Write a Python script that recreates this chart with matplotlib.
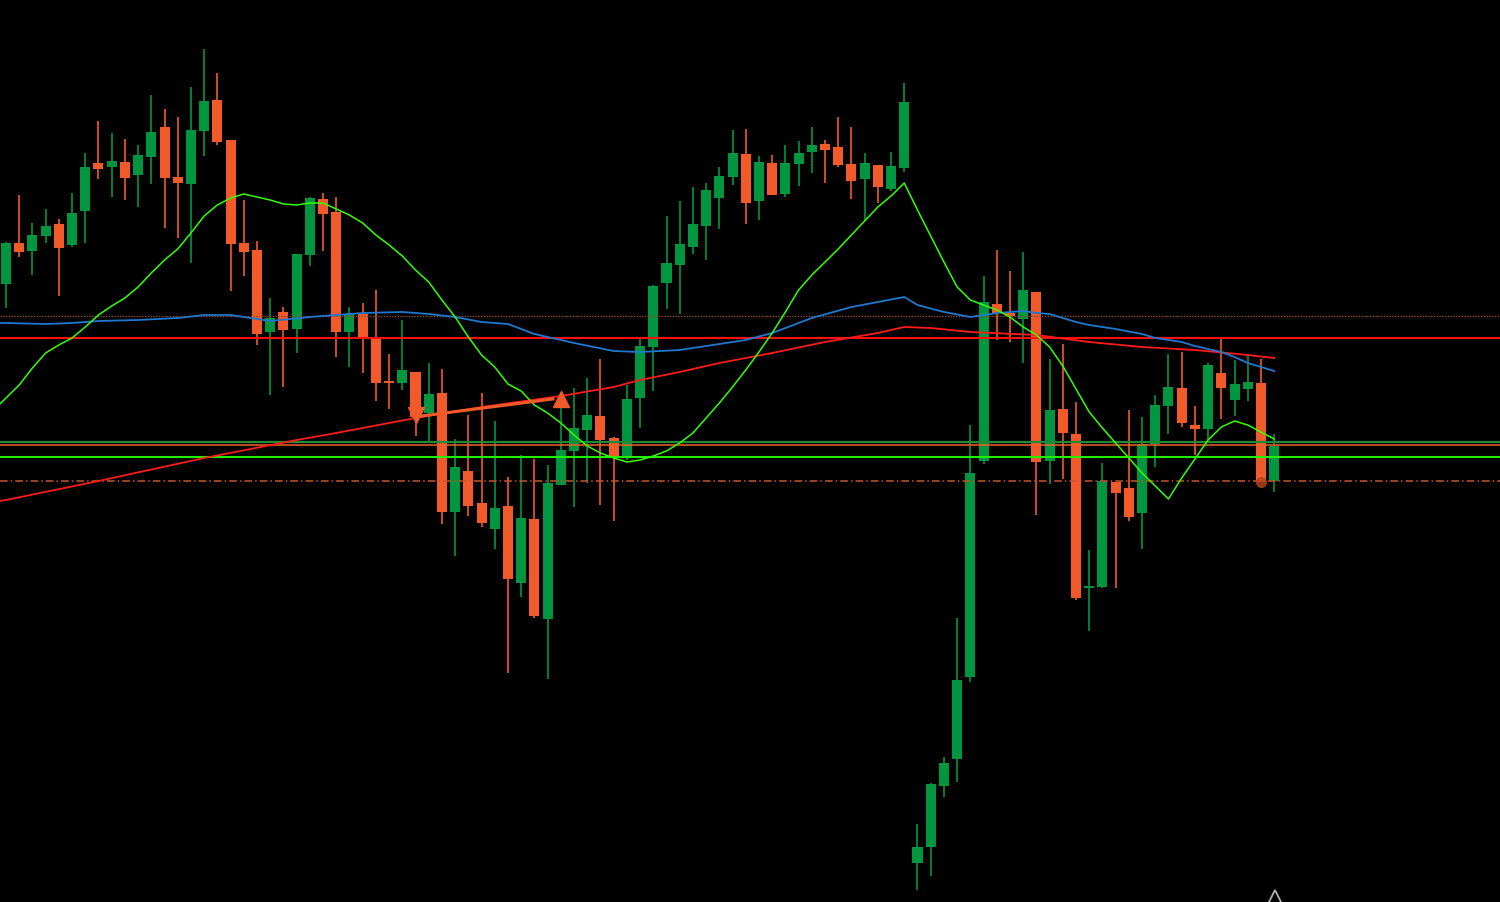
import matplotlib
matplotlib.use("Agg")
import matplotlib.pyplot as plt
import numpy as np

# price levels (screen units, axis is inverted)
opens = [284, 243, 251, 236, 224, 245, 211, 163, 167, 162, 175, 157, 127, 177, 184, 131,
         100, 140, 243, 250, 332, 312, 329, 255, 199, 212, 332, 314, 339, 381, 383, 372,
         413, 393, 512, 471, 503, 529, 506, 583, 519, 619, 485, 451, 430, 416, 438, 456,
         398, 347, 283, 265, 247, 226, 198, 177, 154, 201, 163, 194, 164, 152, 144, 147,
         164, 179, 165, 189, 168, 863, 847, 786, 759, 677, 461, 304, 313, 319, 292, 461,
         409, 434, 588, 587, 482, 488, 513, 444, 406, 388, 425, 429, 373, 400, 389, 383, 481]
closes = [243, 252, 235, 226, 248, 213, 167, 169, 161, 178, 155, 132, 178, 183, 130, 101,
          142, 244, 252, 334, 318, 330, 254, 198, 214, 332, 314, 337, 383, 383, 370, 417,
          394, 512, 467, 506, 523, 508, 579, 518, 616, 483, 450, 428, 415, 440, 456, 399,
          346, 286, 263, 244, 224, 190, 176, 153, 203, 162, 195, 163, 153, 145, 150, 165,
          181, 163, 187, 166, 102, 847, 784, 763, 680, 473, 302, 313, 316, 290, 462, 410,
          433, 598, 586, 481, 493, 517, 444, 405, 387, 423, 429, 365, 388, 384, 382, 482, 446]
highs = [242, 195, 223, 209, 219, 193, 153, 121, 133, 139, 145, 95, 109, 117, 87, 49,
         73, 140, 200, 241, 298, 307, 254, 197, 193, 197, 307, 303, 290, 354, 320, 372,
         363, 369, 439, 415, 393, 421, 477, 455, 459, 465, 407, 388, 378, 359, 437, 385,
         337, 285, 216, 201, 187, 183, 167, 130, 129, 156, 155, 145, 141, 127, 140, 117,
         127, 153, 165, 152, 83, 824, 783, 757, 618, 425, 276, 250, 271, 252, 292, 359,
         344, 402, 550, 463, 482, 410, 417, 395, 354, 352, 406, 363, 339, 360, 354, 359, 434]
lows = [308, 257, 275, 243, 296, 247, 243, 179, 197, 200, 207, 184, 228, 238, 263, 156,
        145, 291, 276, 345, 395, 387, 353, 266, 251, 357, 367, 373, 401, 409, 390, 436,
        442, 524, 556, 516, 527, 549, 673, 597, 618, 679, 485, 507, 483, 505, 521, 460,
        428, 391, 309, 314, 254, 260, 229, 185, 224, 220, 195, 197, 186, 173, 183, 167,
        199, 220, 203, 191, 172, 890, 876, 797, 782, 682, 464, 340, 342, 363, 515, 484,
        479, 600, 631, 588, 588, 521, 549, 467, 434, 427, 455, 440, 419, 416, 401, 482, 492]

# moving averages, read at selected bars (bar -1 is just off the left edge)
fast_idx = [-1, 0, 1, 2, 3, 4, 5, 6, 7, 8, 9, 10, 11, 12, 13, 14, 15, 16, 17, 18, 19, 20, 21,
            22, 23, 24, 25, 26, 27, 28, 29, 30, 31, 32, 33, 34, 35, 36, 37, 38, 39, 40, 41,
            42, 43, 44, 45, 46, 47, 48, 49, 50, 51, 52, 53, 54, 55, 56, 57, 58, 59, 60, 61,
            62, 63, 64, 65, 66, 67, 68, 69, 70, 71, 72, 73, 74, 75, 76, 77, 78, 79, 80, 81,
            82, 83, 84, 85, 86, 87, 88, 89, 90, 91, 92, 93, 94, 95, 96]
fast_ma = [411, 398, 385, 368, 353, 345, 338, 327, 315, 306, 298, 287, 273, 260, 249, 233, 216,
           205, 198, 194, 197, 200, 204, 205, 203, 203, 209, 215, 223, 235, 245, 256, 270,
           282, 300, 317, 337, 355, 367, 384, 391, 405, 413, 423, 435, 446, 453, 458, 462,
           460, 456, 451, 443, 433, 418, 403, 387, 370, 352, 333, 312, 290, 275, 262, 249,
           235, 221, 207, 196, 183, 210, 236, 262, 287, 300, 305, 310, 317, 327, 335, 347,
           366, 389, 412, 428, 443, 458, 473, 486, 499, 478, 459, 440, 427, 421, 425, 432, 439]

mid_idx = [-1, 0, 3, 5, 7, 10, 13, 15, 17, 19, 20, 23, 25, 27, 30, 32, 34, 36, 38, 40, 43,
           46, 48, 51, 52, 56, 58, 61, 64, 66, 68, 69, 71, 73, 74, 75, 76, 77, 78, 79, 80,
           81, 82, 84, 86, 87, 89, 90, 92, 93, 94, 95, 96]
mid_ma = [323, 323, 324, 323, 321, 320, 318, 315, 315, 319, 321, 317, 315, 313, 312, 314, 317,
          322, 324, 334, 343, 351, 352, 350, 348, 340, 333, 318, 307, 302, 297, 305, 312,
          317, 315, 313, 312, 311, 313, 314, 318, 322, 325, 329, 334, 338, 342, 346, 352,
          357, 363, 367, 371]

slow_idx = [-1, 0, 7, 15, 22, 25, 31, 36, 42, 46, 48, 51, 54, 58, 62, 66, 68, 70, 73, 78, 82,
            86, 90, 94, 96]
slow_ma = [502, 500, 481, 458, 440, 433, 418, 407, 396, 387, 380, 372, 363, 353, 342, 333, 327,
           328, 332, 335, 342, 347, 350, 355, 358]

# horizontal levels
level_dotted_top = 315.5
level_red = 338
level_dark_green = 442
level_orange = 445
level_green = 456.5
level_dotted_bottom = 481

# signal arrows and trend segment
sell_bar, sell_price = 31, 416
buy_bar, buy_price = 42, 399
close_bar, close_price = 95, 482

GREEN = '#00963f'
ORANGE = '#f25a29'

step = 13.21
n = len(opens)
x = np.arange(n)

fig = plt.figure(figsize=(15, 9.02), dpi=100, facecolor='black')
ax = fig.add_axes([0, 0, 1, 1], facecolor='black')

o = np.array(opens, float)
c = np.array(closes, float)
up = c < o
colors = [GREEN if u else ORANGE for u in up]
bottoms = np.minimum(o, c)
heights = np.maximum(np.abs(o - c), 1.5)

ax.vlines(x, highs, lows, colors=colors, linewidth=1.2, zorder=2)
ax.bar(x, heights, bottom=bottoms, width=0.76, color=colors, linewidth=0, zorder=3)

ax.axhline(level_dotted_top, color='#8c4a2c', lw=1.0, ls=(0, (1, 1)), zorder=4)
ax.axhline(level_red, color='#ff1010', lw=1.5, zorder=4)
ax.axhline(level_dark_green, color='#1f8a3c', lw=1.6, zorder=4)
ax.axhline(level_orange, color='#f0602a', lw=1.1, zorder=4)
ax.axhline(level_green, color='#22ee00', lw=1.5, zorder=4)
ax.axhline(level_dotted_bottom, color='#c4552a', lw=1.1, ls=(0, (5, 2, 1, 2)), zorder=4)

ax.plot(slow_idx, slow_ma, color='#ff1a1a', lw=1.3, zorder=5)
ax.plot(mid_idx, mid_ma, color='#1f78d0', lw=1.3, zorder=5)
ax.plot(fast_idx, fast_ma, color='#33ff00', lw=1.1, zorder=6)

# trade markers
ax.plot([sell_bar + 0.45, buy_bar - 0.6], [sell_price, buy_price], color=ORANGE, lw=2.2, zorder=7)
ax.plot(sell_bar, sell_price - 1, marker='v', ms=11, color=ORANGE, mec=ORANGE, zorder=7)
ax.plot(buy_bar, buy_price, marker='^', ms=12, color=ORANGE, mec=ORANGE, zorder=7)
ax.plot(close_bar, close_price, marker='o', ms=8, color='#b4421f', alpha=0.85, mec='none', zorder=7)
ax.plot(96.1, 899, marker='^', ms=13, mfc='none', mec='#b0b0b0', mew=1.3, zorder=8, clip_on=False)

ax.set_xlim(-6 / step, (1500 - 6) / step)
ax.set_ylim(902, 0)
ax.axis('off')

fig.savefig('out.png', dpi=100, facecolor='black')
